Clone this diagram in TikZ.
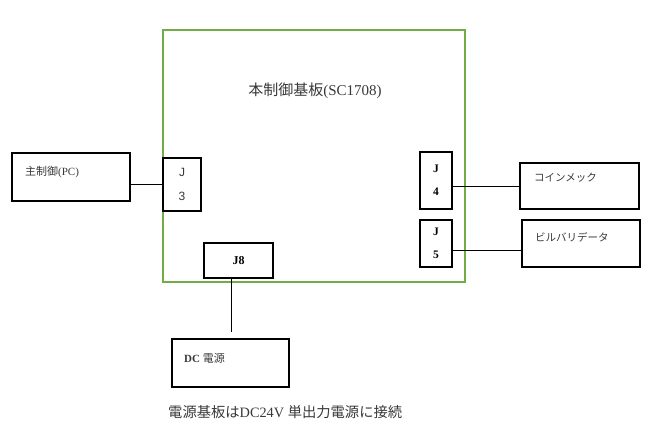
\documentclass[tikz,border=0pt]{standalone}
\usepackage{fontspec}
\setmainfont{Liberation Serif}
\newfontfamily\jpfont{Noto Sans CJK JP}
\newfontfamily\arialfont{Liberation Sans}
\usetikzlibrary{positioning}
\definecolor{brdGreen}{HTML}{70AD47}
\definecolor{txtGray}{HTML}{383838}
\tikzset{
  brdbox/.style={draw=brdGreen,line width=1.6pt,minimum width=302pt,
                 minimum height=252pt,inner sep=0pt},
  devbox/.style={draw=black,line width=1.4pt,inner sep=0pt},
  jbox/.style={devbox,align=center,font=\fontsize{11}{23}\selectfont},
  jboldbox/.style={jbox,font=\fontsize{11.5}{23}\selectfont\bfseries},
  devlabel/.style={font=\fontsize{10.5}{13}\selectfont,text=txtGray,
                   inner sep=0pt,anchor=west},
  wire/.style={draw=black,line width=0.8pt}
}
\begin{document}
\begin{tikzpicture}[x=1pt,y=-1pt]
    \useasboundingbox (0,0) rectangle (650,436);
    \node[brdbox] (board) at (314,156) {};
    \node[font=\fontsize{15}{17}\selectfont,text=txtGray] (title) at (315,91)
      {{\jpfont 本制御基板}(SC1708)};

    \node[devbox,minimum width=118pt,minimum height=48pt] (pc) at (71,177) {};
    \node[jbox,text=txtGray,font=\fontsize{12}{24}\arialfont,
          minimum width=38pt,minimum height=53pt] (j3) at (182,184.5) {J\\3};
    \node[jboldbox,minimum width=32pt,minimum height=57pt] (j4) at (436,180.5) {J\\4};
    \node[jboldbox,minimum width=32pt,minimum height=47pt] (j5) at (436,243.5) {J\\5};
    \node[devbox,minimum width=119pt,minimum height=46pt] (cm) at (579.5,186) {};
    \node[devbox,minimum width=118pt,minimum height=47pt] (bv) at (581,243.5) {};
    \node[devbox,minimum width=69pt,minimum height=35pt,
          font=\fontsize{12}{14}\selectfont\bfseries] (j8) at (238.5,260.5) {J8};
    \node[devbox,minimum width=117pt,minimum height=48pt] (dc) at (230.5,363) {};

    \node[devlabel,font=\fontsize{11}{13}\selectfont] (pctxt) at (25,172)
      {{\jpfont 主制御}(PC)};
    \node[devlabel,font=\fontsize{10.5}{13}\jpfont] (cmtxt) at (534,178) {コインメック};
    \node[devlabel,font=\fontsize{10.5}{13}\jpfont] (bvtxt) at (535,237) {ビルバリデータ};
    \node[devlabel,font=\fontsize{11}{13}\selectfont\bfseries] (dctxt) at (184,358)
      {DC {\jpfont\mdseries 電源}};

    \draw[wire] (pc.east |- j3.west) -- (j3.west);
    \draw[wire] (j4.east |- cm.west) -- (cm.west);
    \draw[wire] ([yshift=-6.5pt]j5.east) -- ([yshift=-6.5pt]bv.west);
    \coordinate (dcend) at (231,332);
    \draw[wire] (j8.south -| dcend) -- (dcend);

    \node[devlabel,font=\fontsize{14.3}{16}\selectfont] (note) at (168,412)
      {{\jpfont 電源基板は}DC24V {\jpfont 単出力電源に接続}};
\end{tikzpicture}
\end{document}
